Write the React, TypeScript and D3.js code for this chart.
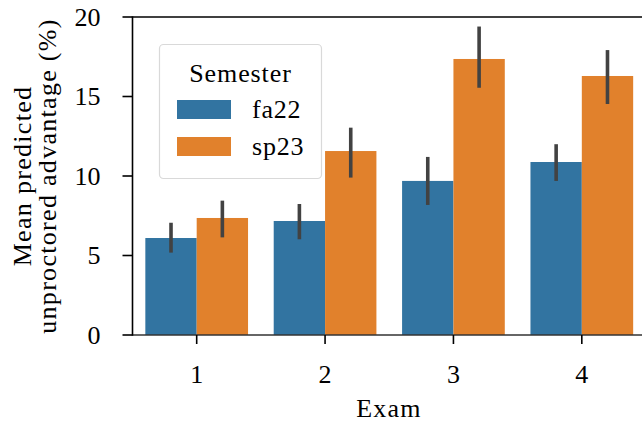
import React from "react";
import * as d3 from "d3";

const exams = ["1", "2", "3", "4"];
const semesters = ["fa22", "sp23"];
const fa22Mean = [6.1, 7.17, 9.69, 10.88];
const fa22Lo = [5.18, 6.02, 8.18, 9.69];
const fa22Hi = [7.06, 8.24, 11.2, 12.0];
const sp23Mean = [7.36, 11.57, 17.36, 16.29];
const sp23Lo = [6.14, 9.9, 15.55, 14.53];
const sp23Hi = [8.45, 13.04, 19.4, 17.92];
const yTicks = [0, 5, 10, 15, 20];
const colors = ["#3274a1", "#e1812c"];

const W = 642;
const H = 423;
const FONT = '"Liberation Serif", serif';
const txt: React.CSSProperties = { fontFamily: FONT };

export default function App() {
  const x = d3.scaleBand<string>().domain(exams).range([132.5, 646]).paddingInner(0).paddingOuter(0);
  const y = d3.scaleLinear().domain([0, 20]).range([335, 17]);
  const hue = d3.scaleBand<string>().domain(semesters).range([0, x.bandwidth() * 0.8]);
  const series = [
    { name: "fa22", mean: fa22Mean, lo: fa22Lo, hi: fa22Hi },
    { name: "sp23", mean: sp23Mean, lo: sp23Lo, hi: sp23Hi },
  ];
  const x0 = x.range()[0];
  const y0 = y(0);
  const yTop = y(20);
  return (
    <svg width={W} height={H} style={{ position: "absolute", left: 0, top: 0, display: "block", background: "#fff" }}>
      {series.map((s, si) =>
        exams.map((e, i) => {
          const bx = (x(e) as number) + x.bandwidth() * 0.1 + (hue(s.name) as number);
          return (
            <rect key={s.name + e} x={bx} y={y(s.mean[i])} width={hue.bandwidth()} height={y0 - y(s.mean[i])} fill={colors[si]} />
          );
        })
      )}
      {series.map((s) =>
        exams.map((e, i) => {
          const cx = (x(e) as number) + x.bandwidth() * 0.1 + (hue(s.name) as number) + hue.bandwidth() / 2;
          return (
            <line key={"err" + s.name + e} x1={cx} x2={cx} y1={y(s.lo[i])} y2={y(s.hi[i])} stroke="#424242" strokeWidth={3.6} />
          );
        })
      )}
      <line x1={x0} x2={W} y1={yTop} y2={yTop} stroke="#000" strokeWidth={1.6} />
      <line x1={x0} x2={W} y1={y0} y2={y0} stroke="#333" strokeWidth={1.5} />
      <line x1={x0} x2={x0} y1={yTop - 0.8} y2={y0 + 0.8} stroke="#000" strokeWidth={1.6} />
      {yTicks.map((t) => (
        <g key={"yt" + t}>
          <line x1={x0 - 10} x2={x0} y1={y(t)} y2={y(t)} stroke="#000" strokeWidth={1.6} />
          <text x={x0 - 32} y={y(t)} dy="0.33em" textAnchor="end" fontSize={26} fill="#000" style={txt}>
            {t}
          </text>
        </g>
      ))}
      {exams.map((e) => {
        const cx = (x(e) as number) + x.bandwidth() / 2;
        return (
          <g key={"xt" + e}>
            <line x1={cx} x2={cx} y1={y0} y2={y0 + 9} stroke="#000" strokeWidth={1.6} />
            <text x={cx} y={383} textAnchor="middle" fontSize={26} fill="#000" style={txt}>
              {e}
            </text>
          </g>
        );
      })}
      <text x={389} y={417} textAnchor="middle" fontSize={26} letterSpacing={1.2} fill="#000" style={txt}>
        Exam
      </text>
      <g transform={`translate(0, ${(y0 + yTop) / 2}) rotate(-90)`}>
        <text x={0} y={31} textAnchor="middle" fontSize={26} letterSpacing={1.3} fill="#000" style={txt}>
          Mean predicted
        </text>
        <text x={0} y={56} textAnchor="middle" fontSize={26} letterSpacing={1.3} fill="#000" style={txt}>
          unproctored advantage (%)
        </text>
      </g>
      <rect x={159.5} y={44.5} width={162} height={134} rx={4} fill="#fff" fillOpacity={0.8} stroke="#d9d9d9" strokeWidth={1.2} />
      <text x={240.5} y={82} textAnchor="middle" fontSize={26} letterSpacing={0.9} fill="#000" style={txt}>
        Semester
      </text>
      {semesters.map((s, i) => (
        <g key={"lg" + s}>
          <rect x={177} y={100 + i * 37} width={54} height={19} fill={colors[i]} />
          <text x={252} y={118 + i * 37} fontSize={26} letterSpacing={0.8} fill="#000" style={txt}>
            {s}
          </text>
        </g>
      ))}
    </svg>
  );
}
